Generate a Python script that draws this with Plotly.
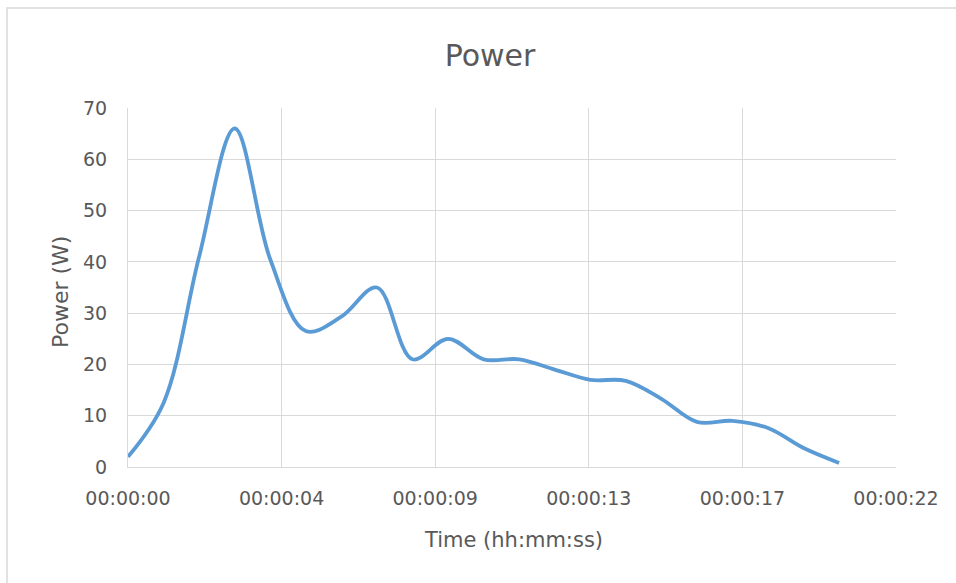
import plotly.graph_objects as go

# Data (time in seconds, power in W)
time_s = [0, 1, 2, 3, 4, 5, 6, 7, 8, 9, 10, 11, 12, 13, 14, 15, 16, 17, 18, 19, 20]
power_w = [2, 12.5, 41, 66, 40.5, 26.5, 29.3, 35, 21, 25, 21, 21, 19, 17, 16.8, 13.3, 8.8, 9, 7.6, 3.7, 0.8]

x_tick_vals = [0, 4.32, 8.64, 12.96, 17.28, 21.6]
x_tick_text = ["00:00:00", "00:00:04", "00:00:09", "00:00:13", "00:00:17", "00:00:22"]
y_tick_vals = [0, 10, 20, 30, 40, 50, 60, 70]

TEXT = "#595959"
GRID = "#d9d9d9"
FONT = "DejaVu Sans"

W, H = 956, 583
L, R, T, B = 128, 60, 108, 116
pw, ph = W - L - R, H - T - B

fig = go.Figure()
fig.add_trace(go.Scatter(
    x=time_s, y=power_w, mode="lines",
    line=dict(color="#5b9bd5", width=3.8, shape="spline", smoothing=1.0),
    showlegend=False, hoverinfo="skip",
))

fig.update_layout(
    width=W, height=H,
    margin=dict(l=L, r=R, t=T, b=B, pad=0),
    paper_bgcolor="white", plot_bgcolor="white",
    font=dict(family=FONT, color=TEXT),
    title=dict(text="Power", x=490 / W, xanchor="center", xref="container",
               y=1 - 55 / H, yanchor="middle", yref="container",
               font=dict(family=FONT, size=30, color=TEXT)),
    xaxis=dict(range=[0, 21.6], tickvals=x_tick_vals, ticktext=x_tick_text,
               showgrid=True, gridcolor=GRID, gridwidth=1,
               showline=True, linecolor=GRID, linewidth=1,
               zeroline=False, ticks="", ticklabelstandoff=14,
               tickfont=dict(family=FONT, size=19, color=TEXT)),
    yaxis=dict(range=[0, 70], tickvals=y_tick_vals,
               showgrid=True, gridcolor=GRID, gridwidth=1,
               showline=True, linecolor=GRID, linewidth=1,
               zeroline=False, ticks="", ticklabelstandoff=16,
               tickfont=dict(family=FONT, size=19, color=TEXT)),
    annotations=[
        dict(text="Time (hh:mm:ss)", xref="paper", yref="paper",
             x=(513 - L) / pw, y=(H - B - 540) / ph, xanchor="center", yanchor="middle",
             showarrow=False, font=dict(family=FONT, size=21, color=TEXT)),
        dict(text="Power (W)", xref="paper", yref="paper",
             x=(60 - L) / pw, y=(H - B - 292) / ph, xanchor="center", yanchor="middle",
             textangle=-90, showarrow=False, font=dict(family=FONT, size=22, color=TEXT)),
    ],
    shapes=[
        dict(type="rect", xref="paper", yref="paper",
             x0=(7 - L) / pw, x1=(965 - L) / pw,
             y0=(H - B - 600) / ph, y1=(H - B - 8) / ph,
             line=dict(color=GRID, width=1.5), fillcolor="rgba(0,0,0,0)", layer="below"),
    ],
)

fig.write_html("out.html")
